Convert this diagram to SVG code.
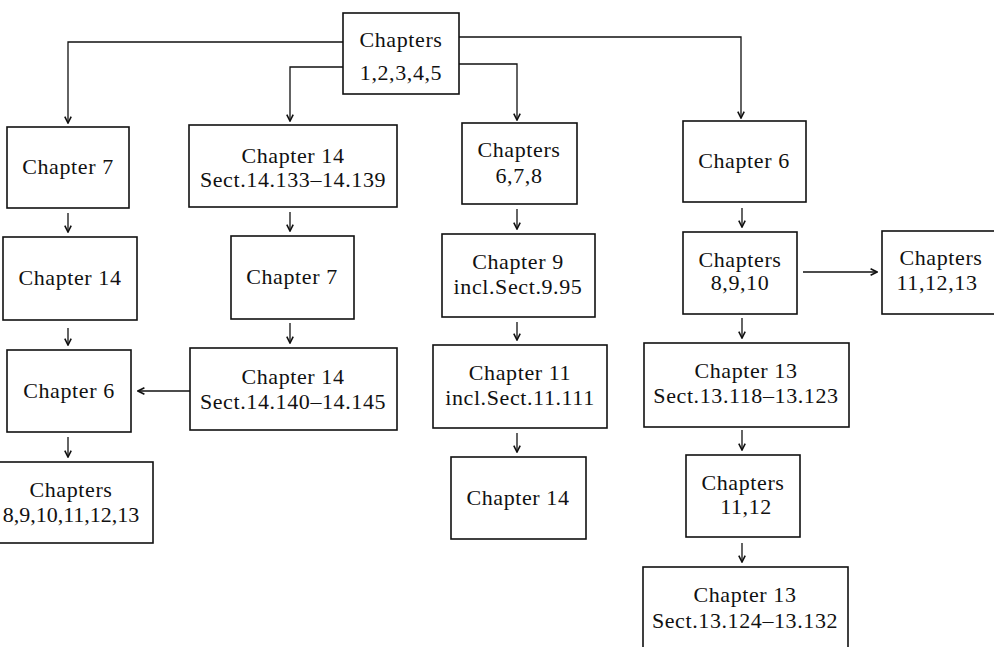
<svg xmlns="http://www.w3.org/2000/svg" width="994" height="647" viewBox="0 0 994 647">
<defs>
<marker id="ah" viewBox="0 0 10 10" refX="9" refY="5" markerWidth="8" markerHeight="8" markerUnits="userSpaceOnUse" orient="auto">
<path d="M1,1 L9,5 L1,9" fill="none" stroke="#111" stroke-width="2"/>
</marker>
<style>
rect{fill:#fff;stroke:#111;stroke-width:1.6}
text{font-family:"Liberation Serif","Times New Roman",serif;font-size:22px;fill:#111;text-anchor:middle;letter-spacing:0.6px}
#connectors path{fill:none;stroke:#111;stroke-width:1.3;marker-end:url(#ah)}
</style>
</defs>
<rect x="-5" y="-5" width="1004" height="657" style="fill:#fff;stroke:none"/>
<g id="connectors">
<path d="M343,42 H68 V123"/>
<path d="M343,67 H290 V121"/>
<path d="M459,37 H741 V118"/>
<path d="M459,64 H517 V120"/>
<path d="M68,213 V232"/>
<path d="M68,328 V345"/>
<path d="M68,437 V457"/>
<path d="M290,212 V231"/>
<path d="M290,323 V343"/>
<path d="M517,209 V229"/>
<path d="M517,322 V340"/>
<path d="M517,433 V452"/>
<path d="M742,208 V227"/>
<path d="M742,318 V338"/>
<path d="M742,430 V450"/>
<path d="M742,543 V562"/>
<path d="M190,391 H138"/>
<path d="M803,272 H877"/>
</g>
<g id="n-top"><rect x="343" y="13" width="116" height="81"/><text x="401" y="47">Chapters</text><text x="401" y="80">1,2,3,4,5</text></g>
<g id="n-c1a"><rect x="7" y="127" width="122" height="81"/><text x="68" y="174">Chapter 7</text></g>
<g id="n-c1b"><rect x="3" y="237" width="134" height="83"/><text x="70" y="285">Chapter 14</text></g>
<g id="n-c1c"><rect x="7" y="350" width="124" height="82"/><text x="69" y="398">Chapter 6</text></g>
<g id="n-c1d"><rect x="-5" y="462" width="158" height="81"/><text x="71" y="497">Chapters</text><text x="71" y="522" style="letter-spacing:0">8,9,10,11,12,13</text></g>
<g id="n-c2a"><rect x="189" y="125" width="208" height="82"/><text x="293" y="163">Chapter 14</text><text x="293" y="187">Sect.14.133–14.139</text></g>
<g id="n-c2b"><rect x="231" y="236" width="123" height="83"/><text x="292" y="284">Chapter 7</text></g>
<g id="n-c2c"><rect x="190" y="348" width="207" height="82"/><text x="293" y="384">Chapter 14</text><text x="293" y="409">Sect.14.140–14.145</text></g>
<g id="n-c3a"><rect x="462" y="123" width="115" height="81"/><text x="519" y="157">Chapters</text><text x="519" y="183">6,7,8</text></g>
<g id="n-c3b"><rect x="442" y="234" width="153" height="83"/><text x="518" y="269">Chapter 9</text><text x="518" y="294">incl.Sect.9.95</text></g>
<g id="n-c3c"><rect x="433" y="345" width="174" height="83"/><text x="520" y="380">Chapter 11</text><text x="520" y="405">incl.Sect.11.111</text></g>
<g id="n-c3d"><rect x="451" y="457" width="135" height="82"/><text x="518" y="505">Chapter 14</text></g>
<g id="n-c4a"><rect x="683" y="121" width="123" height="81"/><text x="744" y="168">Chapter 6</text></g>
<g id="n-c4b"><rect x="683" y="232" width="114" height="82"/><text x="740" y="267">Chapters</text><text x="740" y="290">8,9,10</text></g>
<g id="n-c4c"><rect x="882" y="231" width="130" height="83"/><text x="941" y="265">Chapters</text><text x="937" y="290">11,12,13</text></g>
<g id="n-c4d"><rect x="644" y="343" width="205" height="84"/><text x="746" y="378">Chapter 13</text><text x="746" y="403">Sect.13.118–13.123</text></g>
<g id="n-c4e"><rect x="686" y="455" width="114" height="82"/><text x="743" y="490">Chapters</text><text x="746" y="514">11,12</text></g>
<g id="n-c4f"><rect x="643" y="567" width="205" height="100"/><text x="745" y="602">Chapter 13</text><text x="745" y="628">Sect.13.124–13.132</text></g>
</svg>
